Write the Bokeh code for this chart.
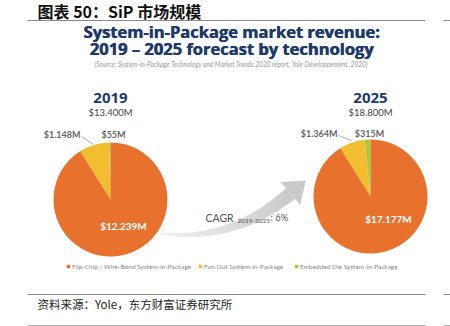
import math
from bokeh.plotting import figure
from bokeh.core.properties import value
from bokeh.embed import file_html
from bokeh.resources import INLINE

# ---- data ----
years = ["2019", "2025"]
totals = ["$13.400M", "$18.800M"]
technologies = ["Flip-Chip / Wire-Bond System-in-Package",
                "Fan-Out System-in-Package",
                "Embedded Die System-in-Package"]
flip_chip = [12239, 17177]
fan_out = [1148, 1364]
embedded = [55, 315]
flip_labels = ["$12.239M", "$17.177M"]
fan_labels = ["$1.148M", "$1.364M"]
emb_labels = ["$55M", "$315M"]
cagr_text = "6%"

colors = ["#E8712D", "#F2BD2F", "#A8C93E"]
NAVY = "#1E3A6B"

W, H = 450, 326
p = figure(width=W, height=H, x_range=(0, W), y_range=(0, H),
           output_backend="svg", toolbar_location=None,
           min_border=0, outline_line_color=None)
p.axis.visible = False
p.grid.visible = False
p.background_fill_color = "white"
p.border_fill_color = "white"


def Y(py):
    return H - py


def txt(x, y, s, size, color="#333333", font="Lato", style="normal",
        align="center", baseline="middle"):
    p.text(x=[x], y=[Y(y)], text=[s], text_font=value(font),
           text_font_size=f"{size}px", text_font_style=style,
           text_color=color, text_align=align, text_baseline=baseline)


# header / footer
txt(37, 10, "图表 50：SiP 市场规模", 16, "#111111", "Noto Sans CJK SC", "bold", "left")
for yy, col in [(20, "#8a8a8a"), (294, "#8a8a8a"), (325, "#b0b0b0")]:
    p.line([27, 425], [Y(yy), Y(yy)], line_color=col, line_width=1.2)
    p.line([443, 450], [Y(yy), Y(yy)], line_color=col, line_width=1.2)
txt(37, 303, "资料来源：Yole，东方财富证券研究所", 11.5, "#222222", "Noto Sans CJK SC", "normal", "left")

# title (drawn twice with a tiny offset for a heavier look)
for dx in (0, 0.6):
    txt(231 + dx, 31, "System-in-Package market revenue:", 16.5, NAVY, "Open Sans", "bold")
    txt(231 + dx, 48, "2019 – 2025 forecast by technology", 16.5, NAVY, "Open Sans", "bold")
txt(231, 63, "(Source: System-in-Package Technology and Market Trends 2020 report, Yole Développement, 2020)",
    6.6, "#9a9a9a", "Lato", "italic")

# pies
centers = [(110, 199, 57), (370, 196, 57)]
label_pos = [
    dict(year=(110, 97), tot=(110, 112), fan=(80, 134), emb=(113, 134), big=(123, 225),
         lead=[(81, 136), (93, 144)]),
    dict(year=(370, 97), tot=(370, 112), fan=(337, 133), emb=(369, 133), big=(388, 218),
         lead=[(338, 135), (351, 140)]),
]
for i in range(2):
    cx, cy, r = centers[i]
    vals = [embedded[i], fan_out[i], flip_chip[i]]
    cols = [colors[2], colors[1], colors[0]]
    tot = sum(vals)
    a = math.pi / 2
    for v, c in zip(vals, cols):
        b = a + 2 * math.pi * v / tot
        p.wedge(x=[cx], y=[Y(cy)], radius=r, start_angle=a, end_angle=b,
                fill_color=c, line_color=None)
        a = b
    lp = label_pos[i]
    txt(*lp["year"], years[i], 15, NAVY, "Open Sans", "bold")
    txt(*lp["tot"], totals[i], 9.5, "#444444", "Lato")
    txt(*lp["fan"], fan_labels[i], 9, "#666666", "Lato", "bold", "right")
    txt(*lp["emb"], emb_labels[i], 9, "#666666", "Lato", "bold")
    txt(*lp["big"], flip_labels[i], 10, "white", "Lato", "bold")
    (x0, y0), (x1, y1) = lp["lead"]
    p.line([x0, x1], [Y(y0), Y(y1)], line_color="#999999", line_width=0.8)

# CAGR arrow (decorative)
P0, C, P2 = (160, 233), (232, 242), (290, 193)
N = 30
xs_all, ys_all, cs = [], [], []


def bez(t):
    x = (1 - t) ** 2 * P0[0] + 2 * (1 - t) * t * C[0] + t * t * P2[0]
    y = (1 - t) ** 2 * P0[1] + 2 * (1 - t) * t * C[1] + t * t * P2[1]
    dx = 2 * (1 - t) * (C[0] - P0[0]) + 2 * t * (P2[0] - C[0])
    dy = 2 * (1 - t) * (C[1] - P0[1]) + 2 * t * (P2[1] - C[1])
    L = math.hypot(dx, dy)
    return x, y, dx / L, dy / L


def grey(t):
    g = int(242 - 40 * t)
    return f"#{g:02x}{g:02x}{g:02x}"


for k in range(N):
    t0, t1 = k / N, (k + 1) / N + 0.002
    pts = []
    for t in (t0, t1):
        x, y, tx, ty = bez(min(t, 1))
        w = 1 + 6 * min(t, 1)
        pts.append((x, y, -ty * w, tx * w))
    (xa, ya, nxa, nya), (xb, yb, nxb, nyb) = pts
    xs_all.append([xa + nxa, xb + nxb, xb - nxb, xa - nxa])
    ys_all.append([Y(ya + nya), Y(yb + nyb), Y(yb - nyb), Y(ya - nya)])
    cs.append(grey((t0 + t1) / 2))
p.patches(xs=xs_all, ys=ys_all, fill_color=cs, line_color=None)
x, y, tx, ty = bez(1)
nx, ny = -ty, tx
tip = (x + 20 * tx, y + 20 * ty)
c1 = (x + 15 * nx, y + 15 * ny)
c2 = (x - 15 * nx, y - 15 * ny)
p.patch([tip[0], c1[0], c2[0]], [Y(tip[1]), Y(c1[1]), Y(c2[1])],
        fill_color=grey(1), line_color=None)

txt(205, 217, "CAGR", 10.5, "#555555", "Lato", "normal", "left")
txt(237, 220, "2019-2025", 6.5, "#555555", "Lato", "normal", "left")
txt(270, 217, ": " + cagr_text, 9.5, "#555555", "Lato", "normal", "left")

# legend
leg_x = [68, 200, 296]
for lx, name, c in zip(leg_x, technologies, colors):
    p.rect(x=[lx], y=[Y(266)], width=3.4, height=3.4, fill_color=c, line_color=None)
    txt(lx + 3.5, 266, name, 6.5, "#888888", "Lato", "normal", "left")

open("out.html", "w").write(file_html(p, INLINE))
